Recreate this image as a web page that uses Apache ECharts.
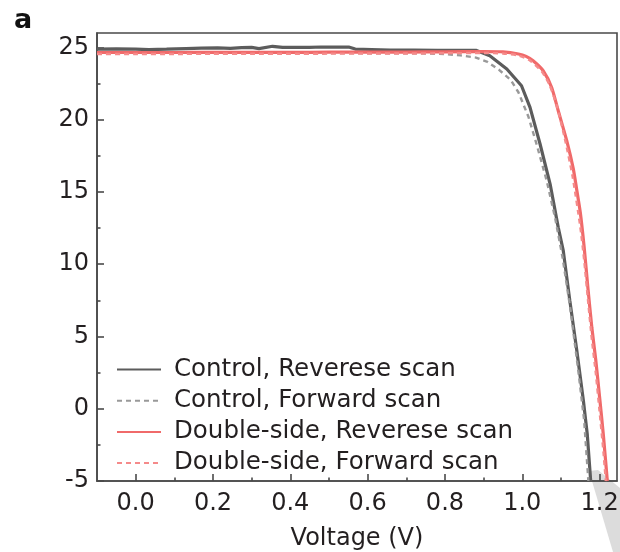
<!DOCTYPE html>
<html>
<head>
<meta charset="utf-8">
<script src="https://cdn.jsdelivr.net/npm/echarts@6/dist/echarts.min.js"></script>
<style>
  html, body { margin: 0; padding: 0; background: #fff; }
  #chart { width: 620px; height: 552px; }
</style>
</head>
<body>
<div id="chart"></div>
<script>
// J-V curves: voltage (V) and current density for each device / scan direction
const ctrlRevV = [-0.1, -0.05, 0.0, 0.034, 0.08, 0.13, 0.17, 0.212, 0.245, 0.274, 0.3, 0.319, 0.354, 0.38, 0.408, 0.45, 0.479, 0.52, 0.551, 0.568, 0.61, 0.658, 0.72, 0.78, 0.84, 0.88, 0.916, 0.96, 0.998, 1.02, 1.046, 1.072, 1.093, 1.106, 1.123, 1.141, 1.158, 1.168, 1.177];
const ctrlRevJ = [24.89, 24.9, 24.88, 24.85, 24.88, 24.92, 24.95, 24.97, 24.93, 24.99, 25.0, 24.92, 25.08, 25.0, 25.01, 25.0, 25.03, 25.02, 25.03, 24.89, 24.86, 24.82, 24.81, 24.8, 24.8, 24.8, 24.43, 23.51, 22.35, 20.85, 18.32, 15.55, 12.55, 10.94, 7.48, 4.03, 0.57, -1.74, -5.0];

const ctrlFwdV = [-0.1, 0.0, 0.1, 0.2, 0.3, 0.4, 0.5, 0.6, 0.7, 0.76, 0.8, 0.84, 0.88, 0.91, 0.94, 0.97, 0.99, 1.016, 1.037, 1.063, 1.085, 1.104, 1.125, 1.145, 1.16, 1.171];
const ctrlFwdJ = [24.6, 24.6, 24.6, 24.62, 24.62, 24.62, 24.62, 24.6, 24.6, 24.58, 24.55, 24.45, 24.3, 24.0, 23.45, 22.75, 21.9, 20.2, 18.3, 15.8, 13.2, 10.5, 6.8, 2.6, -0.8, -5.0];

const dblRevV = [-0.1, 0.0, 0.1, 0.2, 0.3, 0.4, 0.5, 0.6, 0.7, 0.8, 0.9, 0.95, 0.99, 1.01, 1.028, 1.054, 1.076, 1.093, 1.115, 1.132, 1.14, 1.15, 1.16, 1.17, 1.18, 1.19, 1.2, 1.21, 1.22];
const dblRevJ = [24.65, 24.65, 24.65, 24.66, 24.66, 24.66, 24.67, 24.68, 24.68, 24.7, 24.72, 24.7, 24.55, 24.38, 24.08, 23.39, 22.23, 20.62, 18.55, 16.6, 15.3, 13.6, 11.2, 8.3, 5.6, 3.4, 0.8, -1.9, -5.0];

const dblFwdV = [-0.1, 0.0, 0.1, 0.2, 0.3, 0.4, 0.5, 0.6, 0.7, 0.8, 0.9, 0.95, 0.99, 1.02, 1.05, 1.07, 1.09, 1.11, 1.13, 1.15, 1.16, 1.17, 1.18, 1.19, 1.2, 1.21, 1.216];
const dblFwdJ = [24.55, 24.55, 24.55, 24.56, 24.56, 24.56, 24.57, 24.58, 24.58, 24.6, 24.62, 24.58, 24.45, 24.1, 23.35, 22.45, 20.9, 18.7, 16.1, 12.6, 10.3, 7.5, 4.8, 2.5, -0.2, -3.0, -5.0];

// axis ticks and labels
const xMajorTicks = [0.0, 0.2, 0.4, 0.6, 0.8, 1.0, 1.2];
const xMinorTicks = [0.1, 0.3, 0.5, 0.7, 0.9, 1.1];
const yMajorTicks = [-5, 0, 5, 10, 15, 20, 25];
const yMinorTicks = [-2.5, 2.5, 7.5, 12.5, 17.5, 22.5];

const seriesNames = [
  'Control, Reverese scan',
  'Control, Forward scan',
  'Double-side, Reverese scan',
  'Double-side, Forward scan'
];

function pairs(xs, ys) {
  return xs.map((x, i) => [x, ys[i]]);
}

const FONT = 'DejaVu Sans';
const TEXT = '#231f20';
const AXIS = '#4a4a4a';

const chart = echarts.init(document.getElementById('chart'), null, { renderer: 'canvas' });

const axisLineStyle = { color: AXIS, width: 1.6 };

chart.setOption({
  animation: false,
  backgroundColor: '#ffffff',
  title: {
    text: 'a',
    left: 9,
    top: 2,
    textStyle: { fontFamily: FONT, fontSize: 27, fontWeight: 'bold', color: '#111' }
  },
  grid: {
    left: 97, right: 3, top: 33, bottom: 71,
    outerBoundsMode: 'none',
    containLabel: false,
    show: true, borderColor: AXIS, borderWidth: 1.6, backgroundColor: 'transparent'
  },
  legend: {
    orient: 'vertical',
    left: 116,
    top: 357,
    padding: 0,
    itemWidth: 44,
    itemHeight: 14,
    itemGap: 6.2,
    itemStyle: { opacity: 0, borderWidth: 0 },
    textStyle: { fontFamily: FONT, fontSize: 24.5, color: TEXT, padding: [0, 0, 0, 8] },
    data: seriesNames
  },
  xAxis: [
    {
      type: 'value', min: -0.1, max: 1.245, position: 'bottom',
      axisLine: { onZero: false, lineStyle: axisLineStyle },
      axisTick: { inside: true, length: 7, customValues: xMajorTicks, lineStyle: axisLineStyle },
      axisLabel: {
        customValues: xMajorTicks, formatter: v => v.toFixed(1),
        fontFamily: FONT, fontSize: 24, color: TEXT, margin: 11
      },
      splitLine: { show: false },
      name: 'Voltage (V)', nameLocation: 'middle', nameGap: 46,
      nameTextStyle: { fontFamily: FONT, fontSize: 24, color: TEXT }
    },
    {
      type: 'value', min: -0.1, max: 1.245, position: 'bottom',
      axisLine: { show: false, onZero: false },
      axisTick: { inside: true, length: 3.5, customValues: xMinorTicks, lineStyle: axisLineStyle },
      axisLabel: { show: false },
      splitLine: { show: false }
    }
  ],
  yAxis: [
    {
      type: 'value', min: -5, max: 26, position: 'left',
      axisLine: { onZero: false, lineStyle: axisLineStyle },
      axisTick: { inside: true, length: 7, customValues: yMajorTicks, lineStyle: axisLineStyle },
      axisLabel: {
        customValues: yMajorTicks, formatter: v => String(v),
        fontFamily: FONT, fontSize: 24, color: TEXT, margin: 8
      },
      splitLine: { show: false }
    },
    {
      type: 'value', min: -5, max: 26, position: 'left',
      axisLine: { show: false, onZero: false },
      axisTick: { inside: true, length: 3.5, customValues: yMinorTicks, lineStyle: axisLineStyle },
      axisLabel: { show: false },
      splitLine: { show: false }
    }
  ],
  graphic: [
    {
      type: 'polygon',
      z: -1,
      shape: { points: [[589, 471], [598, 470], [620, 488], [620, 552], [613, 552]] },
      style: { fill: '#dcdcdc' },
      silent: true
    }
  ],
  series: [
    {
      name: seriesNames[0], type: 'line', xAxisIndex: 0, yAxisIndex: 0,
      data: pairs(ctrlRevV, ctrlRevJ), showSymbol: false, symbol: 'none', z: 3,
      lineStyle: { color: '#5c5c5c', width: 3.2, type: 'solid' },
      itemStyle: { color: '#5c5c5c' }
    },
    {
      name: seriesNames[1], type: 'line', xAxisIndex: 0, yAxisIndex: 0,
      data: pairs(ctrlFwdV, ctrlFwdJ), showSymbol: false, symbol: 'none', z: 4,
      lineStyle: { color: '#999999', width: 2.4, type: [5, 4] },
      itemStyle: { color: '#999999' }
    },
    {
      name: seriesNames[2], type: 'line', xAxisIndex: 0, yAxisIndex: 0,
      data: pairs(dblRevV, dblRevJ), showSymbol: false, symbol: 'none', z: 5, smooth: 0.2,
      lineStyle: { color: '#f06a6a', width: 3.2, type: 'solid' },
      itemStyle: { color: '#f06a6a' }
    },
    {
      name: seriesNames[3], type: 'line', xAxisIndex: 0, yAxisIndex: 0,
      data: pairs(dblFwdV, dblFwdJ), showSymbol: false, symbol: 'none', z: 6, smooth: 0.2,
      lineStyle: { color: '#f58a8a', width: 2.4, type: [5, 4] },
      itemStyle: { color: '#f58a8a' }
    }
  ]
});
</script>
</body>
</html>
